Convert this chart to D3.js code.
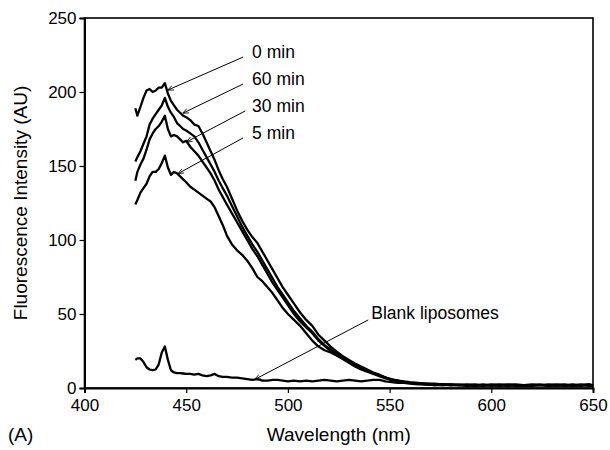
<!DOCTYPE html>
<html lang="en">
<head>
<meta charset="utf-8">
<script src="https://d3js.org/d3.v7.min.js"></script>
<style>
body { margin: 0; background: #fff; }
text { font-family: "Liberation Sans", Arial, sans-serif; fill: #000; }
</style>
</head>
<body>
<script>
// wavelength grid (nm), shared by all spectra
var wavelength = [425, 426, 427.5, 429, 430.5, 432, 433.5, 435, 436.5, 438, 439.5, 441, 442.5, 444, 445.5, 447, 448.5, 450,
	452, 454, 456, 458, 460, 462, 464, 466, 468, 470,
	472.5, 475, 477.5, 480, 482.5, 485, 487.5, 490, 492.5, 495, 497.5, 500,
	503, 506, 509, 512, 515, 518, 521, 524, 527, 530, 533, 536, 539, 542, 545, 548, 551, 554, 557, 560,
	564, 568, 572, 576, 580, 584, 588, 592, 596, 600, 604, 608, 612, 616, 620, 624, 628, 632, 636, 640, 644, 648, 650];

var min0 = [189, 184, 190, 196, 201, 202, 200, 201, 203, 203, 206, 199, 194, 191, 188, 186, 184, 183,
	181, 178, 177, 172, 166, 160, 154, 147, 141, 136,
	128, 120, 113, 107, 102, 98, 92, 86, 80, 74, 68, 63,
	57, 51, 46, 42, 36, 32, 28, 24.5, 21.5, 19, 16.5, 14.5, 12.5, 10.5, 9, 7, 6, 5, 4.5, 4,
	3.5, 3, 3, 2.5, 2.5, 2, 2.5, 2, 2, 2.5, 2, 1.5, 2, 1.5, 2, 2.5, 1.5, 2, 2.5, 1.5, 2, 2.5, 1.5];

var min60 = [153, 156, 160, 165, 170, 178, 182, 185, 188, 191, 196, 190, 186, 183, 179, 177, 175, 174,
	172, 170, 166, 161, 156, 151, 146, 140, 135, 130,
	123, 116, 109, 103, 97, 92, 86, 80, 74, 68, 63, 58,
	52, 47, 42, 38, 33, 29, 26, 23, 20, 17.5, 15, 13, 11.5, 10, 8.5, 7, 5.5, 5, 4, 3.5,
	3, 2.5, 2.5, 2, 2, 2.5, 2, 1.5, 2, 2, 1.5, 2, 2.5, 2, 1.5, 2, 2, 1.5, 2, 2.5, 1.5, 2, 2];

var min30 = [140, 146, 151, 155, 161, 168, 172, 175, 177, 180, 184, 175, 170, 171, 170, 168, 166, 167,
	163, 160, 157, 153, 149, 145, 140, 134, 129, 124,
	118, 112, 106, 100, 94, 89, 83, 77, 71, 66, 61, 56,
	50, 45, 41, 37, 32, 28.5, 25, 22, 19.5, 17, 14.5, 12.5, 11, 9.5, 8, 6.5, 5.5, 4.5, 4, 3.5,
	3, 3, 2.5, 2.5, 2, 2, 1.5, 2, 2.5, 1.5, 2, 2, 1.5, 2, 2.5, 2, 1.5, 2, 2, 2, 2.5, 1.5, 2];

var min5 = [124, 127, 132, 135, 138, 143, 146, 146, 148, 152, 157, 149, 144, 146, 145, 143, 141, 139,
	136, 134, 132, 130, 128, 126, 122, 116, 110, 103,
	97, 93, 90, 86, 81, 75, 72, 68, 64, 59, 54, 50,
	46, 42, 37, 32, 28, 25.5, 24, 22, 20, 18, 15.5, 13.5, 11.5, 10, 8.5, 7, 5.5, 5, 4, 3.5,
	3, 2.5, 2, 2.5, 2, 2, 2, 2.5, 1.5, 2, 2, 2.5, 2, 1.5, 2, 2, 2.5, 2, 1.5, 2, 2, 2, 1.5];

var blank = [19, 20, 20, 17.5, 14, 12.5, 12, 12.5, 16, 24, 28, 19, 12, 10.5, 10, 10, 9.8, 9.5,
	9.5, 9, 9.5, 8.5, 8, 8.5, 9.5, 8, 7.5, 7.5,
	7, 7, 6.5, 6, 5.5, 6, 5, 5, 5.5, 5.5, 5, 4.5,
	5, 4.5, 5, 4.5, 5, 5.5, 5, 4.5, 5, 5.5, 5, 4.5, 5, 5.5, 5.5, 4.5, 4, 3.5, 3.5, 3,
	2.5, 2.5, 2, 2, 2.5, 2, 2, 1.5, 2, 2, 2.5, 2, 2, 1.5, 2, 2, 2, 2.5, 2, 1.5, 2, 2.5, 2];

// labels: text anchor point and arrow (from -> to), in data units
var labelNames = ["0 min", "60 min", "30 min", "5 min", "Blank liposomes"];
var labelPos = [[482.4, 227], [482.4, 208.8], [482.4, 190.5], [482.4, 172.3], [541, 50.7]];
var arrowFrom = [[478, 223.6], [478, 205.4], [479, 187.2], [478, 169], [539.5, 46]];
var arrowTo = [[441.1, 201.4], [448.5, 185.8], [450.3, 166.4], [446.2, 145], [483.9, 5.9]];

var xTicks = [400, 450, 500, 550, 600, 650];
var yTicks = [0, 50, 100, 150, 200, 250];

var series = [min0, min60, min30, min5, blank];

var svg = d3.select("body").append("svg")
	.attr("width", 610)
	.attr("height", 450);

var margin = {top: 18, right: 17, bottom: 62, left: 84.5},
	width = 610 - margin.left - margin.right,
	height = 450 - margin.top - margin.bottom;

var x = d3.scaleLinear().domain([400, 650]).range([0, width]);
var y = d3.scaleLinear().domain([0, 250]).range([height, 0]);

var g = svg.append("g")
	.attr("transform", "translate(" + margin.left + "," + margin.top + ")");

// frame
g.append("rect")
	.attr("width", width)
	.attr("height", height)
	.attr("fill", "none")
	.attr("stroke", "#000")
	.attr("stroke-width", 1.6);

var xAxis = g.append("g")
	.attr("transform", "translate(0," + height + ")")
	.call(d3.axisBottom(x).tickValues(xTicks).tickSize(5).tickPadding(6));

var yAxis = g.append("g")
	.call(d3.axisLeft(y).tickValues(yTicks).tickSize(5).tickPadding(3));

[xAxis, yAxis].forEach(function (a) {
	a.select(".domain").attr("stroke-width", 2);
	a.selectAll(".tick line").attr("stroke-width", 1.2);
	a.selectAll(".tick text").style("font-size", "17px").attr("fill", "#000");
});

// spectra
var line = d3.line()
	.x(function (d, i) { return x(wavelength[i]); })
	.y(function (d) { return y(d); });

g.selectAll(".spectrum")
	.data(series)
	.enter().append("path")
	.attr("class", "spectrum")
	.attr("d", line)
	.attr("fill", "none")
	.attr("stroke", "#000")
	.attr("stroke-width", 2.3)
	.attr("stroke-linejoin", "round");

// arrow heads
svg.append("defs").append("marker")
	.attr("id", "head")
	.attr("viewBox", "0 0 10 10")
	.attr("refX", 9)
	.attr("refY", 5)
	.attr("markerWidth", 6)
	.attr("markerHeight", 6)
	.attr("orient", "auto")
	.append("path")
	.attr("d", "M0,1L10,5L0,9")
	.attr("fill", "none")
	.attr("stroke", "#000")
	.attr("stroke-width", 1.3);

g.selectAll(".arrow")
	.data(labelNames)
	.enter().append("line")
	.attr("class", "arrow")
	.attr("x1", function (d, i) { return x(arrowFrom[i][0]); })
	.attr("y1", function (d, i) { return y(arrowFrom[i][1]); })
	.attr("x2", function (d, i) { return x(arrowTo[i][0]); })
	.attr("y2", function (d, i) { return y(arrowTo[i][1]); })
	.attr("stroke", "#000")
	.attr("stroke-width", 1)
	.attr("marker-end", "url(#head)");

g.selectAll(".label")
	.data(labelNames)
	.enter().append("text")
	.attr("class", "label")
	.attr("x", function (d, i) { return x(labelPos[i][0]); })
	.attr("y", function (d, i) { return y(labelPos[i][1]); })
	.attr("dy", "0.35em")
	.style("font-size", "17.5px")
	.text(function (d) { return d; });

// axis titles
svg.append("text")
	.attr("x", margin.left + width / 2)
	.attr("y", 441)
	.attr("text-anchor", "middle")
	.style("font-size", "19px")
	.text("Wavelength (nm)");

svg.append("text")
	.attr("transform", "translate(27," + (margin.top + height / 2) + ") rotate(-90)")
	.attr("text-anchor", "middle")
	.style("font-size", "19px")
	.text("Fluorescence Intensity (AU)");

svg.append("text")
	.attr("x", 8)
	.attr("y", 441)
	.style("font-size", "19px")
	.text("(A)");
</script>
</body>
</html>
